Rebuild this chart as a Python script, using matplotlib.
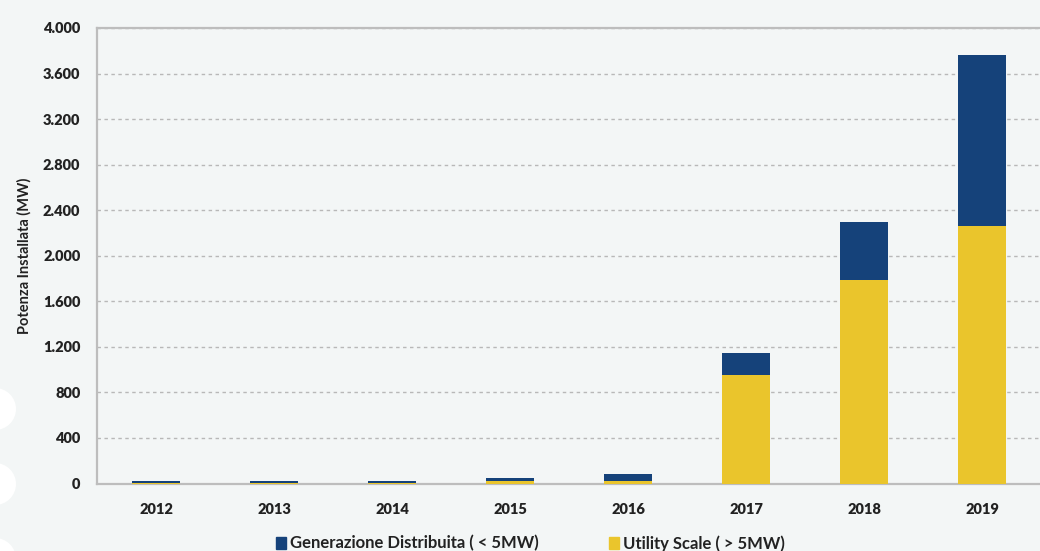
import matplotlib
matplotlib.use("Agg")
from matplotlib import pyplot as plt
from matplotlib.patches import Circle, Patch
import numpy as np

# installed capacity per year, MW
years = ["2012", "2013", "2014", "2015", "2016", "2017", "2018", "2019"]
utility_scale = [3, 3, 3, 20, 20, 950, 1785, 2260]
distributed = [22, 22, 22, 25, 65, 192, 510, 1505]

y_ticks = [0, 400, 800, 1200, 1600, 2000, 2400, 2800, 3200, 3600, 4000]
y_tick_labels = ["0", "400", "800", "1.200", "1.600", "2.000", "2.400",
                 "2.800", "3.200", "3.600", "4.000"]

bg = "#f3f6f6"
blue = "#15427a"
yellow = "#eac52c"
axis_grey = "#bdbdbd"

plt.rcParams["font.family"] = ["Lato", "DejaVu Sans"]

fig = plt.figure(figsize=(10.4, 5.51), dpi=100)
fig.patch.set_facecolor(bg)
ax = fig.add_axes([0.0933, 0.1225, 0.9077, 0.8267])
ax.set_facecolor(bg)

x = np.arange(len(years))
width = 0.4
ax.bar(x, utility_scale, width, color=yellow, zorder=3)
ax.bar(x, distributed, width, bottom=utility_scale, color=blue, zorder=3)

ax.set_xlim(-0.5, len(years) - 0.5)
ax.set_ylim(0, 4000)
ax.set_yticks(y_ticks)
ax.set_yticklabels(y_tick_labels)
ax.set_xticks(x)
ax.set_xticklabels(years)
ax.tick_params(axis="both", length=0, labelsize=10.5, colors="#222222")
ax.tick_params(axis="x", pad=14)
ax.tick_params(axis="y", pad=12)
for lbl in ax.get_xticklabels() + ax.get_yticklabels():
    lbl.set_fontweight("heavy")

ax.yaxis.grid(True, linestyle=(0, (2.5, 2.5)), color="#b8b8b8", linewidth=1.0, zorder=0)
ax.set_axisbelow(True)

for side in ("left", "bottom", "top"):
    ax.spines[side].set_color(axis_grey)
    ax.spines[side].set_linewidth(1.6)
ax.spines["right"].set_visible(False)

ax.set_ylabel("Potenza Installata (MW)", fontsize=10.5, fontweight="bold",
              color="#222222", labelpad=8)

handles = [Patch(color=blue, label="Generazione Distribuita ( < 5MW)"),
           Patch(color=yellow, label="Utility Scale ( > 5MW)")]
fig.legend(handles=handles, loc="center", bbox_to_anchor=(0.51, 0.014), ncol=2,
           frameon=False, handlelength=0.6, handleheight=0.75, handletextpad=0.25,
           columnspacing=4.2, prop={"weight": "bold", "size": 12},
           labelcolor="#222222")

# white rounded marks along the left edge
for cy in (409, 484, 559):
    fig.patches.append(Circle((-5, 551 - cy), 21, transform=None,
                              facecolor="white", edgecolor="none", zorder=5))

fig.savefig("out.png", dpi=100, facecolor=bg)
